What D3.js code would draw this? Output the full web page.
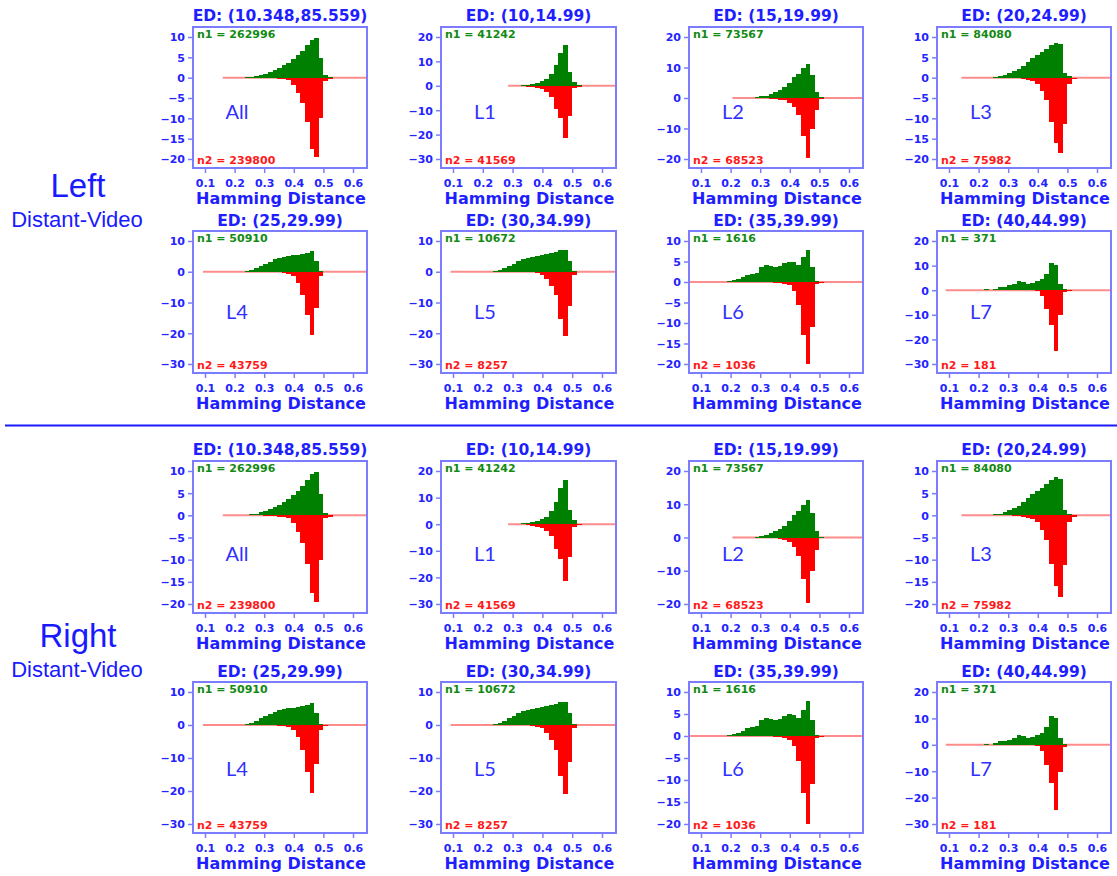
<!DOCTYPE html>
<html><head><meta charset="utf-8">
<script src="https://cdn.jsdelivr.net/npm/d3@7"></script>
<style>body{margin:0;background:#fff}</style>
</head><body><svg id="c" width="1117" height="876"></svg>
<script>
// ---- data ----
const binStart = [0.1875,0.203125,0.21875,0.234375,0.25,0.265625,0.28125,0.296875,0.3125,0.328125,0.34375,0.359375,0.375,0.390625,0.40625,0.421875,0.4375,0.453125,0.46875,0.484375,0.5,0.515625,0.53125];
const binWidth = 0.015625;
const titles = ["ED: (10.348,85.559)","ED: (10,14.99)","ED: (15,19.99)","ED: (20,24.99)","ED: (25,29.99)","ED: (30,34.99)","ED: (35,39.99)","ED: (40,44.99)"];
const groupLabels = ["All","L1","L2","L3","L4","L5","L6","L7"];
const n1 = [262996,41242,73567,84080,50910,10672,1616,371];
const n2 = [239800,41569,68523,75982,43759,8257,1036,181];
const xTicks = [0.1,0.2,0.3,0.4,0.5,0.6];
const yTicks = [
  [10,5,0,-5,-10,-15,-20],
  [20,10,0,-10,-20,-30],
  [20,10,0,-10,-20],
  [10,5,0,-5,-10,-15,-20],
  [10,0,-10,-20,-30],
  [10,0,-10,-20,-30],
  [10,5,0,-5,-10,-15,-20],
  [20,10,0,-10,-20,-30]
];
const lineStart = [0.16,0.285,0.206,0.142,0.093,0.092,0.06,0.089];
const greenAll = [0,0,0,0.1,0.2,0.4,0.7,1.0,1.4,1.9,2.4,3.0,3.7,4.6,5.5,6.6,8.0,9.3,9.8,4.8,0.6,0.1,0];
const redAll   = [0,0,0,0,0,0,0,-0.05,-0.1,-0.2,-0.3,-0.4,-0.6,-1.8,-3.8,-6.3,-11,-17.5,-19.5,-10,-0.7,-0.3,0];
const greenL1  = [0,0,0,0,0,0,0,0,0,0.3,0.5,0.8,1.2,1.8,2.7,5.0,8.5,13.5,16.8,5.5,1.5,0.2,0];
const redL1    = [0,0,0,0,0,0,0,0,0,0,-0.3,-0.5,-0.9,-1.5,-2.5,-4.5,-9.5,-13,-21.5,-12.5,-1,-0.3,0];
const greenL2  = [0,0,0,0,0,0,0.3,0.5,0.8,1.3,1.9,2.6,3.6,5.0,6.8,8.0,9.8,11.2,7.5,2.0,0.3,0,0];
const redL2    = [0,0,0,0,0,0,0,0,-0.1,-0.2,-0.3,-0.5,-0.8,-1.5,-2.8,-5.5,-12.5,-19.7,-10,-3.8,-0.3,0,0];
const greenL3  = [0,0,0,0,0.2,0.4,0.7,1.1,1.6,2.2,2.9,3.8,4.8,5.5,6.2,7.0,8.0,8.6,8.2,1.2,0.4,0,0];
const redL3    = [0,0,0,0,0,0,0,0,-0.1,-0.2,-0.3,-0.5,-0.8,-1.6,-3.4,-5.6,-11,-16,-18.5,-11.3,-1.5,-0.3,0];
const greenL4  = [0,0,0,0.2,0.6,1.2,2.0,2.6,3.3,4.0,4.4,4.8,5.1,5.3,5.4,5.7,6.1,6.6,3.6,0.4,0,0,0];
const redL4    = [0,0,0,0,0,0,0,0,0,0,-0.2,-0.4,-0.7,-1.5,-3.5,-7.5,-14.2,-20.5,-11.8,-1.5,-0.2,0,0];
const greenL5  = [0,0,0,0.3,0.6,1.3,2.0,2.6,3.6,4.2,4.6,4.9,5.1,5.4,5.7,6.0,6.4,7.0,7.1,3.5,0.4,0,0];
const redL5    = [0,0,0,0,0,0,0,0,0,0,0,-0.2,-0.5,-1.0,-2.5,-4.5,-7.5,-15.5,-21,-11.3,-1.0,0,0];
const greenL6  = [0.2,0.4,0.7,1.1,1.8,2.0,2.3,3.6,4.2,3.8,3.6,3.9,4.6,5.0,4.8,4.2,6.0,7.9,3.6,0.3,0,0,0];
const redL6    = [0,0,0,0,0,0,0,0,0,0,-0.2,-0.3,-0.5,-0.8,-2.3,-5.6,-13,-20,-11,-0.5,-0.2,0,0];
const greenL7  = [0,0,0.3,0.1,0.6,1.4,1.5,2.0,2.6,3.6,3.3,2.6,3.0,3.9,4.6,6.6,11.0,10.3,2.4,0.3,0,0,0];
const redL7    = [0,0,0,0,0,0,0,0,0,0,0,0,0,-0.3,-2.5,-7.8,-14.3,-24.7,-10.2,-0.8,-0.2,0,0];
const greens = [greenAll,greenL1,greenL2,greenL3,greenL4,greenL5,greenL6,greenL7];
const reds = [redAll,redL1,redL2,redL3,redL4,redL5,redL6,redL7];

// ---- layout ----
const colLeft = [193,441,689,937], colRight = [367,616,863,1111];
const rows = [
  {top:27, bottom:168, title:21, lab:0.655},
  {top:231, bottom:373, title:226, lab:0.62},
  {top:461, bottom:613, title:455, lab:0.655},
  {top:682, bottom:833, title:677, lab:0.62}
];
const BOX = '#7c7cff', TXT = '#2424ff', FONT = '"DejaVu Sans", sans-serif';
const svg = d3.select('#c');

function panel(p, ri, col) {
  const r = rows[ri], L = colLeft[col], R = colRight[col];
  const x = d3.scaleLinear().domain([0.1,0.6]).range([L+12, R-14]);
  const t = yTicks[p];
  const y = d3.scaleLinear().domain([d3.min(t), d3.max(t)]).range([r.bottom-9, r.top+10]);
  const g = svg.append('g');
  g.append('line').attr('x1', x(lineStart[p])).attr('x2', R).attr('y1', y(0)).attr('y2', y(0))
    .attr('stroke', '#ff8c8c').attr('stroke-width', 2);
  const gd = binStart.map((b,i)=>({b, v:greens[p][i]})).filter(d=>d.v>0);
  const rd = binStart.map((b,i)=>({b, v:reds[p][i]})).filter(d=>d.v<0);
  g.append('g').attr('shape-rendering','crispEdges').selectAll('rect').data(gd).join('rect')
    .attr('x', d=>x(d.b)).attr('width', d=>x(d.b+binWidth)-x(d.b))
    .attr('y', d=>y(d.v)).attr('height', d=>y(0)-y(d.v)).attr('fill', '#008000');
  g.append('g').attr('shape-rendering','crispEdges').selectAll('rect').data(rd).join('rect')
    .attr('x', d=>x(d.b)).attr('width', d=>x(d.b+binWidth)-x(d.b))
    .attr('y', y(0)).attr('height', d=>y(d.v)-y(0)).attr('fill', '#ff0000');
  g.append('rect').attr('x', L).attr('y', r.top).attr('width', R-L).attr('height', r.bottom-r.top)
    .attr('fill','none').attr('stroke', BOX).attr('stroke-width', 2);
  const xa = g.append('g').attr('transform', `translate(0,${r.bottom})`)
    .call(d3.axisBottom(x).tickValues(xTicks).tickSize(5).tickFormat(d3.format('.1f')));
  const ya = g.append('g').attr('transform', `translate(${L},0)`)
    .call(d3.axisLeft(y).tickValues(t).tickSize(5).tickFormat(d3.format('d')));
  [xa, ya].forEach(a => {
    a.select('.domain').remove();
    a.selectAll('line').attr('stroke', BOX).attr('stroke-width', 1.5);
    a.selectAll('text').attr('fill', TXT).attr('font-family', FONT).attr('font-weight', 'bold').attr('font-size', 11);
  });
  xa.selectAll('text').attr('y', 19).attr('dy', null);
  ya.selectAll('text').attr('x', -8).attr('dy', '0.36em');
  g.append('text').attr('x', (L+R)/2).attr('y', r.title).attr('text-anchor','middle')
    .attr('font-family', FONT).attr('font-weight','bold').attr('font-size', 15.5).attr('fill', '#1e1eff').text(titles[p]);
  g.append('text').attr('x', (L+R)/2+1).attr('y', r.bottom+35.5).attr('text-anchor','middle')
    .attr('font-family', FONT).attr('font-weight','bold').attr('font-size', 16).attr('fill', '#1e1eff').text('Hamming Distance');
  g.append('text').attr('x', L+4).attr('y', r.top+11)
    .attr('font-family', FONT).attr('font-weight','bold').attr('font-size', 11).attr('fill', '#138a13').text('n1 = ' + n1[p]);
  g.append('text').attr('x', L+4).attr('y', r.bottom-4)
    .attr('font-family', FONT).attr('font-weight','bold').attr('font-size', 11).attr('fill', '#ff1a1a').text('n2 = ' + n2[p]);
  g.append('text').attr('x', L+44).attr('y', r.top + r.lab*(r.bottom-r.top)).attr('text-anchor','middle')
    .attr('font-family', 'Lato, "Open Sans", sans-serif').attr('font-size', 20).attr('fill', '#3030ff').text(groupLabels[p]);
}

for (let half = 0; half < 2; half++) {
  for (let p = 0; p < 8; p++) {
    panel(p, half*2 + Math.floor(p/4), p % 4);
  }
}

const side = [
  {big:'Left', yb:197, ys:227},
  {big:'Right', yb:647, ys:677}
];
side.forEach(s => {
  svg.append('text').attr('x', 78).attr('y', s.yb).attr('text-anchor','middle')
    .attr('font-family','"Liberation Sans", Arial, sans-serif').attr('font-size', 33).attr('fill', '#1a1aff').text(s.big);
  svg.append('text').attr('x', 77).attr('y', s.ys).attr('text-anchor','middle')
    .attr('font-family','"Liberation Sans", Arial, sans-serif').attr('font-size', 22).attr('fill', '#1a1aff').text('Distant-Video');
});
svg.append('line').attr('x1', 5).attr('x2', 1117).attr('y1', 425.5).attr('y2', 425.5)
  .attr('stroke', '#1a1aff').attr('stroke-width', 2);
</script>
</body></html>
